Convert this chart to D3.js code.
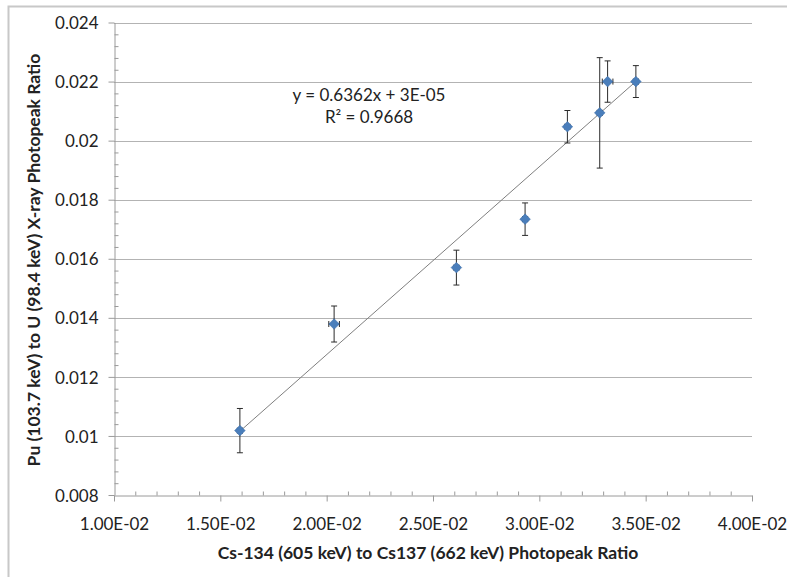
<!DOCTYPE html>
<html>
   <head>
      <script src="https://d3js.org/d3.v7.min.js"></script>
   </head>

   <style>
      body {
         margin: 0;
         background: white;
      }

      svg text {
         font-family: Lato, "Open Sans", sans-serif;
         fill: #222;
      }

      .grid line {
         stroke: #b3b3b3;
         stroke-width: 1;
      }

      .axis path, .axis line {
         stroke: #9a9a9a;
      }

      .errbar {
         stroke: #2b2b2b;
         stroke-width: 1;
      }

      .trend {
         stroke: #7f7f7f;
         stroke-width: 1;
      }

      .marker {
         fill: #4a7ebb;
         stroke: #3a6aa5;
         stroke-width: 0.5;
      }
   </style>
   <body>
      <svg id="svg-container" width="787" height="577">
      </svg>

      <script>
         let svg = d3.select('#svg-container');

         // Cs-134/Cs-137 ratio (x) and Pu/U ratio (y) with their uncertainties
         let csRatio = [0.01592, 0.02035, 0.02610, 0.02933, 0.03132, 0.03284, 0.03321, 0.03454];
         let csErr = [0.00012, 0.00025, 0.00012, 0.00012, 0.00012, 0.00012, 0.00025, 0.00012];
         let puRatio = [0.01018, 0.01379, 0.01570, 0.01734, 0.02047, 0.02094, 0.02200, 0.02200];
         let puErr = [0.00075, 0.00061, 0.00059, 0.00055, 0.00055, 0.00187, 0.00070, 0.00054];

         let xTicks = [0.010, 0.015, 0.020, 0.025, 0.030, 0.035, 0.040];
         let yTicks = [0.008, 0.010, 0.012, 0.014, 0.016, 0.018, 0.020, 0.022, 0.024];

         // linear trend line as reported on the chart
         let slope = 0.6362;
         let intercept = 3e-05;
         let rSquared = 0.9668;

         let points = csRatio.map((x, i) => ({x: x, y: puRatio[i], ex: csErr[i], ey: puErr[i]}));

         let plotLeft = 114, plotRight = 752, plotTop = 22.5, plotBottom = 495;

         let x = d3.scaleLinear().domain([0.01, 0.04]).range([plotLeft, plotRight]);
         let y = d3.scaleLinear().domain([0.008, 0.024]).range([plotBottom, plotTop]);

         // outer chart frame (right and bottom are cropped off in the picture)
         svg.append('rect')
            .attr('x', 8.5)
            .attr('y', 6.5)
            .attr('width', 800)
            .attr('height', 600)
            .attr('fill', 'none')
            .attr('stroke', '#c8c8c8')
            .attr('stroke-width', 2);

         // horizontal gridlines
         svg.append('g')
            .attr('class', 'grid')
            .selectAll('line')
            .data(yTicks.slice(1))
            .enter()
            .append('line')
            .attr('x1', plotLeft)
            .attr('x2', plotRight)
            .attr('y1', (d) => Math.round(y(d)) + 0.5)
            .attr('y2', (d) => Math.round(y(d)) + 0.5);

         // minor ticks
         let xMinor = d3.range(0.010, 0.0401, 0.001).filter((d) => Math.abs(d * 200 - Math.round(d * 200)) > 1e-6);
         let yMinor = d3.range(0.008, 0.0241, 0.0004).filter((d) => Math.abs(d * 500 - Math.round(d * 500)) > 1e-6);

         svg.append('g')
            .attr('class', 'axis')
            .attr('transform', `translate(0, ${plotBottom + 0.5})`)
            .call(d3.axisBottom(x).tickValues(xMinor).tickSize(-4).tickFormat(''))
            .call((g) => g.select('.domain').remove());

         svg.append('g')
            .attr('class', 'axis')
            .attr('transform', `translate(${plotLeft + 0.5}, 0)`)
            .call(d3.axisLeft(y).tickValues(yMinor).tickSize(-4).tickFormat(''))
            .call((g) => g.select('.domain').remove());

         // main axes
         let xAxis = svg.append('g')
            .attr('class', 'axis')
            .attr('transform', `translate(0, ${plotBottom + 0.5})`)
            .call(d3.axisBottom(x).tickValues(xTicks).tickSize(6).tickSizeOuter(0)
               .tickFormat((d) => d3.format('.2e')(d).replace('e', 'E').replace(/E([+-])(\d)$/, 'E$10$2').replace('E+', 'E')));
         xAxis.selectAll('text')
            .attr('dy', null)
            .attr('y', 34)
            .style('font-size', '17px')
            .style('fill', '#222');

         let yAxis = svg.append('g')
            .attr('class', 'axis')
            .attr('transform', `translate(${plotLeft + 0.5}, 0)`)
            .call(d3.axisLeft(y).tickValues(yTicks).tickSize(6).tickSizeOuter(0)
               .tickFormat((d) => String(+d.toFixed(3))));
         yAxis.selectAll('text')
            .attr('x', -16)
            .attr('dy', '0.36em')
            .style('font-size', '17px')
            .style('fill', '#222');

         // trend line across the data range
         let xExt = d3.extent(csRatio);
         svg.append('line')
            .attr('class', 'trend')
            .attr('x1', x(xExt[0]))
            .attr('y1', y(slope * xExt[0] + intercept))
            .attr('x2', x(xExt[1]))
            .attr('y2', y(slope * xExt[1] + intercept));

         // error bars
         let eb = svg.append('g')
            .selectAll('g')
            .data(points)
            .enter()
            .append('g')
            .attr('class', 'errbar');

         eb.append('line')
            .attr('x1', (d) => x(d.x)).attr('x2', (d) => x(d.x))
            .attr('y1', (d) => y(d.y - d.ey)).attr('y2', (d) => y(d.y + d.ey));
         eb.append('line')
            .attr('x1', (d) => x(d.x) - 3).attr('x2', (d) => x(d.x) + 3)
            .attr('y1', (d) => y(d.y + d.ey)).attr('y2', (d) => y(d.y + d.ey));
         eb.append('line')
            .attr('x1', (d) => x(d.x) - 3).attr('x2', (d) => x(d.x) + 3)
            .attr('y1', (d) => y(d.y - d.ey)).attr('y2', (d) => y(d.y - d.ey));
         eb.append('line')
            .attr('x1', (d) => x(d.x - d.ex)).attr('x2', (d) => x(d.x + d.ex))
            .attr('y1', (d) => y(d.y)).attr('y2', (d) => y(d.y));
         eb.append('line')
            .attr('x1', (d) => x(d.x - d.ex)).attr('x2', (d) => x(d.x - d.ex))
            .attr('y1', (d) => y(d.y) - 3).attr('y2', (d) => y(d.y) + 3);
         eb.append('line')
            .attr('x1', (d) => x(d.x + d.ex)).attr('x2', (d) => x(d.x + d.ex))
            .attr('y1', (d) => y(d.y) - 3).attr('y2', (d) => y(d.y) + 3);

         // diamond markers
         svg.append('g')
            .selectAll('path')
            .data(points)
            .enter()
            .append('path')
            .attr('class', 'marker')
            .attr('d', d3.symbol().type(d3.symbolDiamond2).size(72))
            .attr('transform', (d) => `translate(${x(d.x)}, ${y(d.y)})`);

         // trend equation
         svg.append('text')
            .attr('x', 369)
            .attr('y', 101)
            .attr('text-anchor', 'middle')
            .style('font-size', '17px')
            .text(`y = ${slope}x + 3E-05`);
         svg.append('text')
            .attr('x', 369)
            .attr('y', 123)
            .attr('text-anchor', 'middle')
            .style('font-size', '17px')
            .text(`R² = ${rSquared}`);

         // axis titles
         svg.append('text')
            .attr('x', 428)
            .attr('y', 559)
            .attr('text-anchor', 'middle')
            .style('font-size', '17.5px')
            .style('font-weight', 'bold')
            .text('Cs-134 (605 keV) to Cs137 (662 keV) Photopeak Ratio');

         svg.append('text')
            .attr('transform', 'translate(40, 260) rotate(-90)')
            .attr('text-anchor', 'middle')
            .style('font-size', '17.5px')
            .style('font-weight', 'bold')
            .text('Pu (103.7 keV) to U (98.4 keV) X-ray Photopeak Ratio');
      </script>
   </body>
</html>
